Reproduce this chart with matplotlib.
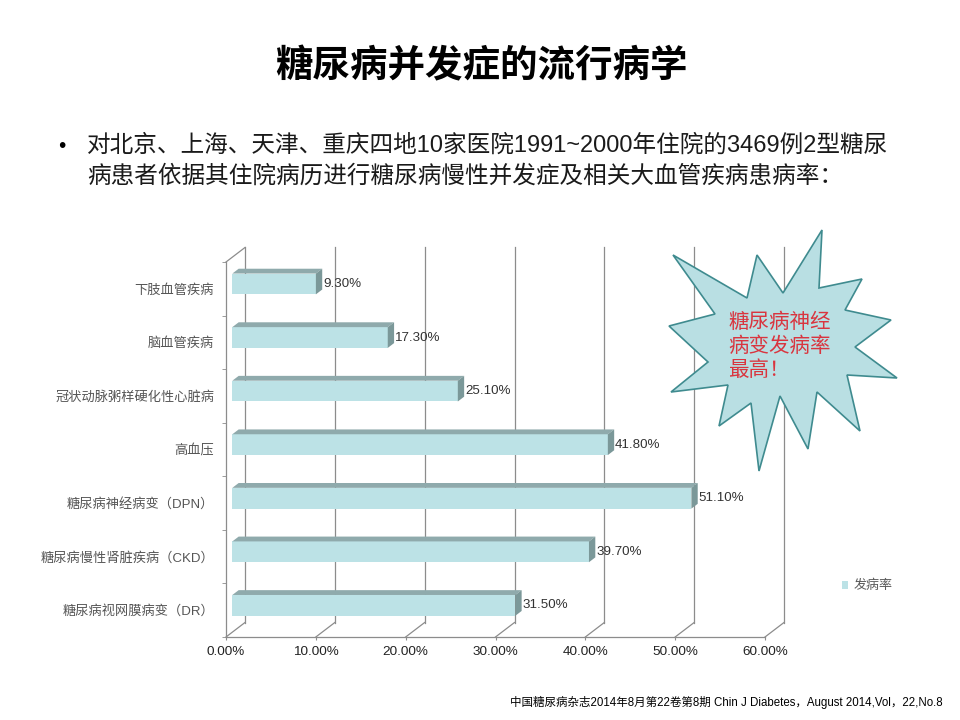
"""Diabetes complication prevalence, 3D-looking horizontal bar chart slide."""

import matplotlib
matplotlib.use("Agg")
import matplotlib.pyplot as plt
from matplotlib.patches import Polygon

plt.rcParams["font.family"] = ["Liberation Sans", "Noto Sans CJK SC"]

CJK = ["Noto Sans CJK SC", "DejaVu Sans"]
LATIN_FIRST = ["Liberation Sans", "Noto Sans CJK SC"]

# ------------------------------------------------------------------
# Data (bottom to top)
# ------------------------------------------------------------------
categories = [
    "糖尿病视网膜病变（DR）",
    "糖尿病慢性肾脏疾病（CKD）",
    "糖尿病神经病变（DPN）",
    "高血压",
    "冠状动脉粥样硬化性心脏病",
    "脑血管疾病",
    "下肢血管疾病",
]
rates = [31.5, 39.7, 51.1, 41.8, 25.1, 17.3, 9.3]
xticks = [0, 10, 20, 30, 40, 50, 60]
series_name = "发病率"

title = "糖尿病并发症的流行病学"
bullet_lines = [
    "对北京、上海、天津、重庆四地10家医院1991~2000年住院的3469例2型糖尿",
    "病患者依据其住院病历进行糖尿病慢性并发症及相关大血管疾病患病率：",
]
callout = "糖尿病神经\n病变发病率\n最高！"
source = "中国糖尿病杂志2014年8月第22卷第8期 Chin J Diabetes，August 2014,Vol，22,No.8"

FRONT = "#bce2e6"
TOP = "#8faaac"
SIDE = "#7b9899"
GRID = "#8c8c8c"

# ------------------------------------------------------------------
# Figure
# ------------------------------------------------------------------
W, H = 960, 720
fig = plt.figure(figsize=(W / 100, H / 100), dpi=100)
fig.patch.set_facecolor("white")

# chart front plane in pixels: x 226..765, y 262..637
x0, x1, y0, y1 = 226, 765, 262, 637
ax = fig.add_axes([x0 / W, 1 - y1 / H, (x1 - x0) / W, (y1 - y0) / H])
ax.set_xlim(0, 60)
ax.set_ylim(-0.5, len(categories) - 0.5)
ax.patch.set_alpha(0)

px_x = 60 / (x1 - x0)
px_y = len(categories) / (y1 - y0)
ox = 19 * px_x      # depth offset (data units)
oy = 14.5 * px_y
bh = 20.8 * px_y    # bar front face height

ytop = len(categories) - 0.5
# back wall gridlines + floor diagonals
for t in xticks:
    ax.plot([t + ox, t + ox], [-0.5 + oy, ytop + oy], color=GRID, lw=0.9,
            clip_on=False, zorder=1)
    ax.plot([t, t + ox], [-0.5, -0.5 + oy], color=GRID, lw=0.9,
            clip_on=False, zorder=1)
ax.plot([0, ox], [ytop, ytop + oy], color=GRID, lw=0.9, clip_on=False, zorder=1)

for s in ["top", "right"]:
    ax.spines[s].set_visible(False)
for s in ["left", "bottom"]:
    ax.spines[s].set_color(GRID)
    ax.spines[s].set_linewidth(0.9)

# bars
ypos = list(range(len(categories)))
yc = [y + oy / 3 for y in ypos]
bars = ax.barh(yc, rates, height=bh, left=ox / 3, color=FRONT, zorder=3,
               label=series_name)
for y, v in zip(yc, rates):
    xl, xr = ox / 3, v + ox / 3
    yt = y + bh / 2
    ax.add_patch(Polygon([(xl, yt), (xr, yt), (xr + ox / 3, yt + oy / 3),
                          (xl + ox / 3, yt + oy / 3)],
                         closed=True, fc=TOP, ec="none", zorder=3))
    ax.add_patch(Polygon([(xr, y - bh / 2), (xr, yt), (xr + ox / 3, yt + oy / 3),
                          (xr + ox / 3, y - bh / 2 + oy / 3)],
                         closed=True, fc=SIDE, ec="none", zorder=3))
    ax.text(xr + ox / 3 + 0.1, y, f"{v:.2f}%", ha="left", va="center",
            fontsize=9.6, color="#333333", zorder=4)

# axes ticks
ax.set_xticks(xticks)
ax.set_xticklabels([f"{t:.2f}%" for t in xticks], fontsize=9.7, color="#222222")
ax.tick_params(axis="x", length=2.4, color=GRID, pad=4)
ax.set_yticks(ypos)
ax.set_yticklabels(categories, fontsize=9.5, color="#555555", family=LATIN_FIRST)
ax.tick_params(axis="y", which="major", length=0, pad=8.5)
ax.set_yticks([y - 0.5 for y in range(len(categories) + 1)], minor=True)
ax.tick_params(axis="y", which="minor", length=2.6, color=GRID)

leg = ax.legend(handles=[bars], loc="center left",
                bbox_to_anchor=(835 / W, 1 - 586 / H),
                bbox_transform=fig.transFigure, frameon=False,
                handlelength=0.5, handleheight=0.5, handletextpad=0.4,
                borderpad=0, prop={"family": CJK, "size": 9.4})
for t in leg.get_texts():
    t.set_color("#595959")

# ------------------------------------------------------------------
# Slide texts and callout (pixel overlay)
# ------------------------------------------------------------------
ov = fig.add_axes([0, 0, 1, 1], zorder=5)
ov.set_xlim(0, W)
ov.set_ylim(H, 0)
ov.axis("off")
ov.patch.set_alpha(0)

ov.text(481, 66, title, ha="center", va="center", fontsize=27,
        fontweight="bold", family=CJK, color="black")
ov.text(62, 146, "•", ha="center", va="center", fontsize=15, color="black")
ov.text(87, 146, bullet_lines[0], ha="left", va="center", fontsize=17,
        family=LATIN_FIRST, color="#1a1a1a")
ov.text(87, 176, bullet_lines[1], ha="left", va="center", fontsize=17,
        family=LATIN_FIRST, color="#1a1a1a")

star = [(822, 230), (819, 288), (862, 279), (845, 310), (891, 320),
        (855, 347), (897, 378), (847, 375), (860, 431), (817, 392),
        (808, 449), (780, 396), (759, 471), (751, 403), (719, 426),
        (728, 385), (671, 392), (708, 362), (669, 326), (715, 314),
        (673, 255), (747, 298), (757, 255), (783, 293)]
ov.add_patch(Polygon(star, closed=True, fc="#b9dfe3", ec="#3f8b8f", lw=1.2))
ov.text(728, 346, callout, ha="left", va="center", fontsize=14.8,
        family=CJK, color="#d9353f", linespacing=1.12)

ov.text(943, 702, source, ha="right", va="center", fontsize=8.3,
        family=["Liberation Sans", "Noto Sans CJK SC"], color="black")

plt.savefig("out.png", dpi=100)
